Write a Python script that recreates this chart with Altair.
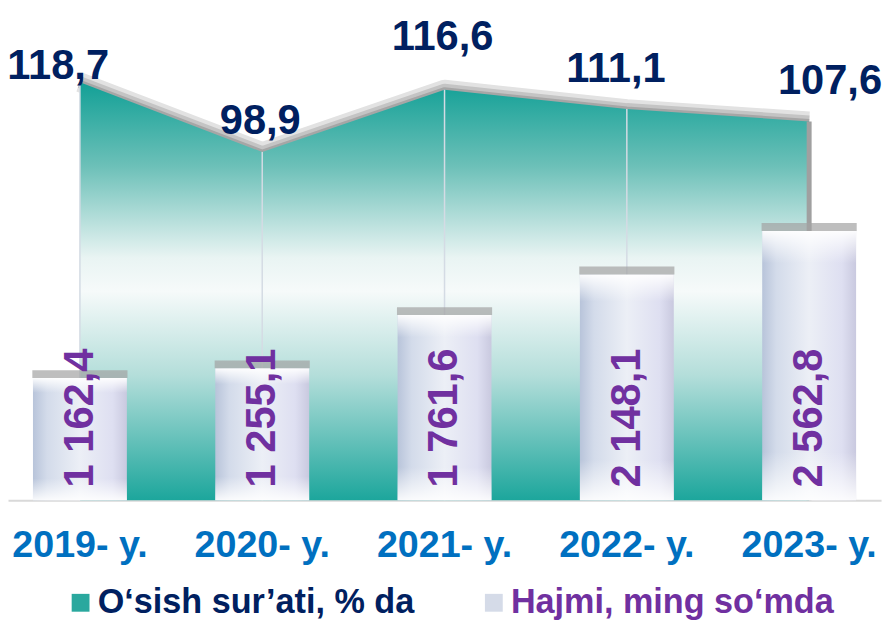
import altair as alt
import pandas as pd

years = ["2019- y.", "2020- y.", "2021- y.", "2022- y.", "2023- y."]
growth = [118.7, 98.9, 116.6, 111.1, 107.6]
volume = [1162.4, 1255.1, 1761.6, 2148.1, 2562.8]
growth_labels = ["118,7", "98,9", "116,6", "111,1", "107,6"]
volume_labels = ["1 162,4", "1 255,1", "1 761,6", "2 148,1", "2 562,8"]
series = ["O‘sish sur’ati, % da", "Hajmi, ming so‘mda"]

df = pd.DataFrame({"year": years, "growth": growth, "volume": volume,
                   "glabel": growth_labels, "vlabel": volume_labels})
legend_df = pd.DataFrame({"series": series, "year": years[:2]})

FONT = "Liberation Sans"
NAVY = "#002060"
PURPLE = "#7030a0"
BLUE = "#0070c0"

x_enc = alt.X("year:N", sort=years, title=None,
              scale=alt.Scale(paddingInner=0.485, paddingOuter=0.137, round=False),
              axis=alt.Axis(labelFont=FONT, labelFontSize=38, labelFontWeight="bold",
                            labelColor=BLUE, labelPadding=27, ticks=False,
                            domainColor="#d9d9d9", domainWidth=2, labelAngle=0,
                            grid=False))

gscale = alt.Scale(domain=[0, 139], nice=False, zero=False)
vscale = alt.Scale(domain=[0, 4656], nice=False)
y_g = alt.Y("growth:Q", scale=gscale, axis=None)
y_v = alt.Y("volume:Q", scale=vscale, axis=None)

base = alt.Chart(df)

shadow_wide = base.mark_line(color="#e2e2e2", strokeWidth=20, strokeJoin="round").encode(x=x_enc, y=y_g)
shadow_mid = base.mark_line(color="#c4c4c4", strokeWidth=12, strokeJoin="round").encode(x=x_enc, y=y_g)
shadow_dark = base.mark_line(color="#a6a6a6", strokeWidth=5, strokeJoin="round").encode(x=x_enc, y=y_g)

area_grad = alt.Gradient(
    gradient="linear", x1=0, y1=0, x2=0, y2=1,
    stops=[alt.GradientStop(color="#12a096", offset=0),
           alt.GradientStop(color="#6cc0b8", offset=0.2),
           alt.GradientStop(color="#e9f4f3", offset=0.42),
           alt.GradientStop(color="#f6fafa", offset=0.5),
           alt.GradientStop(color="#b4deda", offset=0.7),
           alt.GradientStop(color="#1ca69c", offset=1)])
area = base.mark_area(fill=area_grad, line=False).encode(x=x_enc, y=y_g)

drops = base.mark_rule().encode(
    x=x_enc, y=y_g, y2=alt.datum(0),
    color=alt.condition(alt.datum.year == years[-1], alt.value("#a0a0a0"), alt.value("#d4dbe4")),
    strokeWidth=alt.condition(alt.datum.year == years[-1], alt.value(5), alt.value(1.5)))

bar_grad = alt.Gradient(
    gradient="linear", x1=0, y1=0, x2=1, y2=0,
    stops=[alt.GradientStop(color="#b8c4da", offset=0),
           alt.GradientStop(color="#d3dbea", offset=0.15),
           alt.GradientStop(color="#eceff6", offset=0.5),
           alt.GradientStop(color="#dedff1", offset=0.85),
           alt.GradientStop(color="#c9c9df", offset=1)])
bars = base.mark_bar(fill=bar_grad).encode(x=x_enc, y=y_v)

bevel_grad = alt.Gradient(
    gradient="linear", x1=0, y1=0, x2=0, y2=1,
    stops=[alt.GradientStop(color="rgba(255,255,255,0.95)", offset=0),
           alt.GradientStop(color="rgba(255,255,255,0.0)", offset=0.12),
           alt.GradientStop(color="rgba(255,255,255,0.0)", offset=0.82),
           alt.GradientStop(color="rgba(255,255,255,0.9)", offset=1)])
bevel = base.mark_bar(fill=bevel_grad).encode(x=x_enc, y=y_v)

tops = base.mark_tick(color="#a3a3a3", thickness=8, size=96, yOffset=-4).encode(x=x_enc, y=y_v)

vlabels = base.mark_text(angle=270, align="left", baseline="middle", dx=13,
                         font=FONT, fontSize=42, fontWeight="bold", color=PURPLE).encode(
    x=x_enc, y=alt.Y("zero:Q", scale=vscale, axis=None), text="vlabel:N").transform_calculate(zero="0")

offsets = [(-22, -3), (-2, -18), (-2, -40), (-11, -27), (21, -28)]
glayers = []
for yr, (dx, dy) in zip(years, offsets):
    glayers.append(base.mark_text(align="center", baseline="alphabetic", dx=dx, dy=dy,
                                  font=FONT, fontSize=42, fontWeight="bold", color=NAVY).encode(
        x=x_enc, y=y_g, text="glabel:N").transform_filter(alt.datum.year == yr))

legend_layer = alt.Chart(legend_df).mark_square(opacity=0, filled=True).encode(
    x=x_enc, y=alt.Y("z:Q", axis=None),
    color=alt.Color("series:N", sort=series,
                    scale=alt.Scale(domain=series, range=["#2aa89e", "#d5dbe8"]),
                    legend=alt.Legend(title=None, orient="none", legendX=56, legendY=580,
                                      direction="horizontal", symbolType="square",
                                      symbolSize=324, symbolOpacity=1, symbolStrokeWidth=0,
                                      labelFont=FONT, labelFontSize=34.5, labelFontWeight="bold",
                                      labelColor=alt.ExprRef("datum.label == '" + series[1] + "' ? '" + PURPLE + "' : '" + NAVY + "'"),
                                      labelLimit=600, labelOffset=0, columnPadding=62,
                                      padding=0))).transform_calculate(z="0")

chart = alt.layer(shadow_wide, shadow_mid, shadow_dark, area, drops, bars, bevel, tops, vlabels,
                  *glayers, legend_layer).resolve_scale(y="independent").properties(
    width=881, height=494,
    autosize=alt.AutoSizeParams(type="none"),
    padding={"left": 0, "top": 0, "right": 7, "bottom": 125},
    background="white",
).configure_view(stroke=None)

chart.save("out.html", embed_options={"renderer": "svg", "actions": False})
